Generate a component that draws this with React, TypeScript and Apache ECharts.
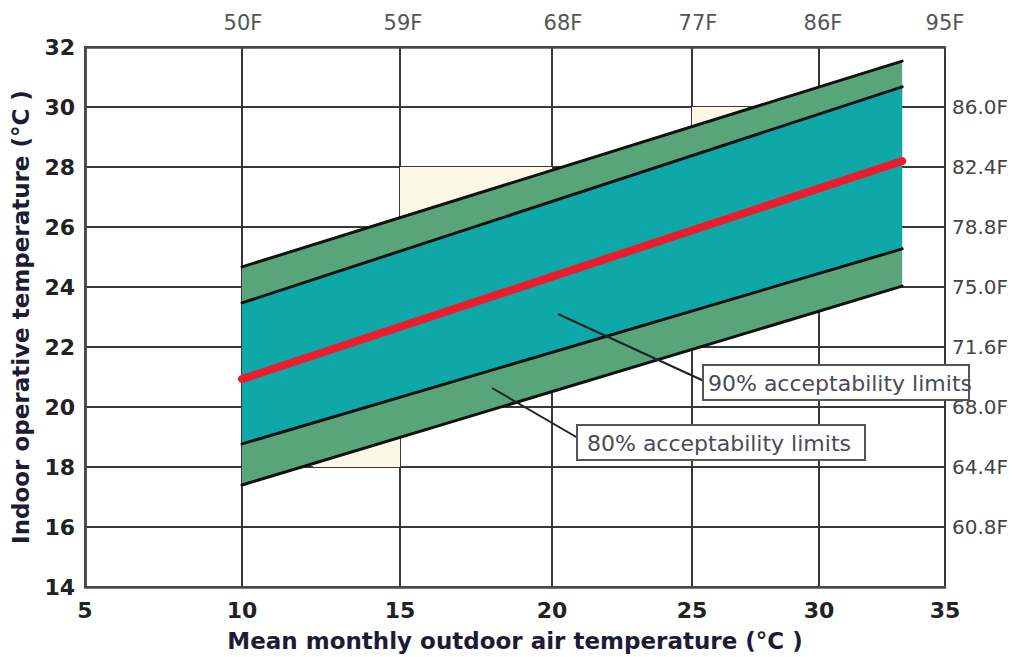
import React, { useEffect, useRef } from "react";
import * as echarts from "echarts";

// ---- data ----
const xTicksC = [5, 10, 15, 20, 25, 30, 35];
const xTickOffsets = [0, 157, 315, 467, 607, 734, 860];
const topLabels = ["50F", "59F", "68F", "77F", "86F", "95F"];
const topLabelOffsets = [158, 318, 478, 613, 738, 860];
const rightLabels = ["60.8F", "64.4F", "68.0F", "71.6F", "75.0F", "78.8F", "82.4F", "86.0F"];

const bandX = [10, 33.3];
const upper80 = [24.67, 31.53];
const upper90 = [23.47, 30.67];
const neutral = [20.93, 28.2];
const lower90 = [18.77, 25.27];
const lower80 = [17.4, 24.03];

// cream background patches [x1, x2, yLow, yHigh] in °C
const creamPatches = [
  [12.25, 15, 18, 20],
  [15, 20, 26, 28],
  [25, 27.2, 28.5, 30],
];

const toAxis = (c: number) => {
  for (let i = 0; i < xTicksC.length - 1; i++) {
    if (c <= xTicksC[i + 1] || i === xTicksC.length - 2) {
      const t = (c - xTicksC[i]) / (xTicksC[i + 1] - xTicksC[i]);
      return xTickOffsets[i] + t * (xTickOffsets[i + 1] - xTickOffsets[i]);
    }
  }
  return 0;
};

const FONT = "DejaVu Sans";

export default function App() {
  const ref = useRef<HTMLDivElement>(null);
  useEffect(() => {
    if (!ref.current) return;
    const chart = echarts.init(ref.current, undefined, { renderer: "svg" });
    const xl = toAxis(bandX[0]);
    const xr = toAxis(bandX[1]);
    const edge = (arr: number[], color: string, width: number, z: number) => ({
      type: "line",
      data: [
        [xl, arr[0]],
        [xr, arr[1]],
      ],
      symbol: "none",
      z,
      silent: true,
      lineStyle: { color, width, cap: "round" },
    });
    const bandRender = (params: any, api: any) => {
      const a = api.coord([api.value(0), api.value(2)]);
      const b = api.coord([api.value(1), api.value(3)]);
      const c = api.coord([api.value(1), api.value(5)]);
      const d = api.coord([api.value(0), api.value(4)]);
      return {
        type: "polygon",
        shape: { points: [a, b, c, d] },
        style: { fill: api.visual("color") },
      };
    };
    const option: any = {
      animation: false,
      grid: { left: 85, right: 74, top: 47, bottom: 70 },
      xAxis: [
        {
          type: "value",
          min: 0,
          max: 860,
          position: "bottom",
          axisLine: { show: true, lineStyle: { color: "#4a4a4a", width: 2.5 } },
          axisTick: { show: false, customValues: xTickOffsets },
          splitLine: { show: true, lineStyle: { color: "#383838", width: 2 } },
          axisLabel: {
            customValues: xTickOffsets,
            formatter: (v: number) => {
              const i = xTickOffsets.indexOf(Math.round(v));
              return i >= 0 ? String(xTicksC[i]) : "";
            },
            fontFamily: FONT,
            fontWeight: "bold",
            fontSize: 22,
            color: "#222",
            margin: 12,
          },
          name: "Mean monthly outdoor air temperature (°C )",
          nameLocation: "middle",
          nameGap: 42,
          nameTextStyle: { fontFamily: FONT, fontWeight: "bold", fontSize: 23, color: "#1c1c36" },
        },
        {
          type: "value",
          min: 0,
          max: 860,
          position: "top",
          axisLine: { show: true, lineStyle: { color: "#4a4a4a", width: 2.5 } },
          axisTick: { show: false },
          splitLine: { show: false },
          axisLabel: {
            customValues: topLabelOffsets,
            formatter: (v: number) => {
              const i = topLabelOffsets.indexOf(Math.round(v));
              return i >= 0 ? topLabels[i] : "";
            },
            fontFamily: FONT,
            fontSize: 21,
            color: "#555",
            margin: 14,
          },
        },
      ],
      yAxis: [
        {
          type: "value",
          min: 14,
          max: 32,
          interval: 2,
          position: "left",
          axisLine: { show: true, lineStyle: { color: "#4a4a4a", width: 2.5 } },
          axisTick: { show: false },
          splitLine: { show: true, lineStyle: { color: "#383838", width: 2 } },
          axisLabel: {
            fontFamily: FONT,
            fontWeight: "bold",
            fontSize: 22,
            color: "#222",
            margin: 10,
          },
          name: "Indoor operative temperature (°C )",
          nameLocation: "middle",
          nameRotate: 90,
          nameGap: 53,
          nameTextStyle: { fontFamily: FONT, fontWeight: "bold", fontSize: 23, color: "#1c1c36" },
        },
        {
          type: "value",
          min: 14,
          max: 32,
          interval: 2,
          position: "right",
          axisLine: { show: true, lineStyle: { color: "#4a4a4a", width: 2.5 } },
          axisTick: { show: false },
          splitLine: { show: false },
          axisLabel: {
            formatter: (v: number) => (v >= 16 && v <= 30 ? rightLabels[(v - 16) / 2] : ""),
            fontFamily: FONT,
            fontSize: 20,
            color: "#444",
            margin: 7,
          },
        },
      ],
      series: [
        {
          type: "custom",
          z: 1,
          silent: true,
          itemStyle: { color: "#fdf8e6" },
          data: creamPatches.map((p) => [toAxis(p[0]), toAxis(p[1]), p[2], p[2], p[3], p[3]]),
          renderItem: bandRender,
        },
        {
          type: "custom",
          z: 2,
          silent: true,
          itemStyle: { color: "#58a57a" },
          data: [[xl, xr, lower80[0], lower80[1], upper80[0], upper80[1]]],
          renderItem: bandRender,
        },
        {
          type: "custom",
          z: 3,
          silent: true,
          itemStyle: { color: "#0ea8a8" },
          data: [[xl, xr, lower90[0], lower90[1], upper90[0], upper90[1]]],
          renderItem: bandRender,
        },
        edge(upper80, "#111", 3, 4),
        edge(upper90, "#111", 3, 4),
        edge(lower90, "#111", 3, 4),
        edge(lower80, "#111", 3, 4),
        edge(neutral, "#ec1c2c", 8, 5),
      ],
      graphic: [
        { type: "line", z: 10, shape: { x1: 558, y1: 314, x2: 704, y2: 381 }, style: { stroke: "#222", lineWidth: 2 } },
        { type: "line", z: 10, shape: { x1: 492, y1: 388, x2: 578, y2: 438 }, style: { stroke: "#222", lineWidth: 2 } },
        { type: "rect", z: 10, shape: { x: 703, y: 365, width: 266, height: 35 }, style: { fill: "#fff", stroke: "#555", lineWidth: 2 } },
        {
          type: "text",
          z: 11,
          x: 708,
          y: 383,
          style: { text: "90% acceptability limits", font: `22px '${FONT}'`, fill: "#4a4a58", verticalAlign: "middle" },
        },
        { type: "rect", z: 10, shape: { x: 577, y: 425, width: 288, height: 35 }, style: { fill: "#fff", stroke: "#555", lineWidth: 2 } },
        {
          type: "text",
          z: 11,
          x: 587,
          y: 443,
          style: { text: "80% acceptability limits", font: `22px '${FONT}'`, fill: "#4a4a58", verticalAlign: "middle" },
        },
      ],
    };
    chart.setOption(option);
    return () => chart.dispose();
  }, []);
  return (
    <div
      ref={ref}
      style={{ position: "fixed", left: 0, top: 0, width: 1019, height: 657, background: "#fff" }}
    />
  );
}
